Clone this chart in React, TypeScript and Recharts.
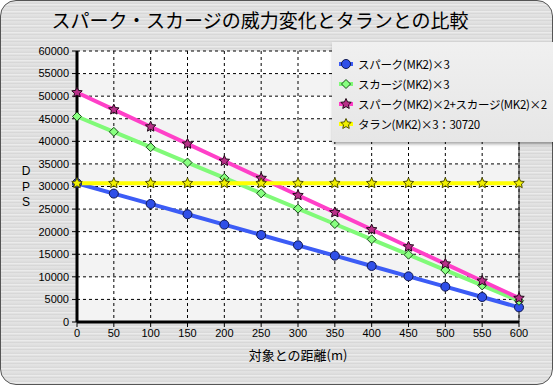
import React from "react"
import { LineChart, Line, XAxis, YAxis, CartesianGrid, ReferenceLine } from "recharts"

const distances = [0, 50, 100, 150, 200, 250, 300, 350, 400, 450, 500, 550, 600]
const spark = [30720, 28430, 26140, 23850, 21560, 19270, 16980, 14690, 12400, 10110, 7820, 5530, 3240]
const scourge = [45500, 42100, 38700, 35300, 31900, 28500, 25100, 21700, 18300, 14900, 11500, 8100, 4700]
const combined = [50810, 47020, 43230, 39430, 35640, 31850, 28050, 24260, 20470, 16670, 12880, 9090, 5290]
const taran = [30720, 30720, 30720, 30720, 30720, 30720, 30720, 30720, 30720, 30720, 30720, 30720, 30720]

const xTicks = [0, 50, 100, 150, 200, 250, 300, 350, 400, 450, 500, 550, 600]
const yTicks = [0, 5000, 10000, 15000, 20000, 25000, 30000, 35000, 40000, 45000, 50000, 55000, 60000]

const title = "スパーク・スカージの威力変化とタランとの比較"
const xLabel = "対象との距離(m)"
const yLabel = ["D", "P", "S"]

const data = distances.map((d, i) => ({
  dist: d,
  spark: spark[i],
  scourge: scourge[i],
  combined: combined[i],
  taran: taran[i],
}))

const jp = '"Noto Sans CJK JP", sans-serif'

function starPath(cx: number, cy: number, ro: number, ri: number) {
  let p = ""
  for (let k = 0; k < 10; k++) {
    const r = k % 2 === 0 ? ro : ri
    const a = -Math.PI / 2 + (k * Math.PI) / 5
    p += (k === 0 ? "M" : "L") + (cx + r * Math.cos(a)).toFixed(2) + "," + (cy + r * Math.sin(a)).toFixed(2)
  }
  return p + "Z"
}

type Shape = "circle" | "diamond" | "star"

function Marker({ cx, cy, shape, fill, stroke }: { cx: number; cy: number; shape: Shape; fill: string; stroke: string }) {
  if (shape === "circle") return <circle cx={cx} cy={cy} r={4.5} fill={fill} stroke={stroke} strokeWidth={1} />
  if (shape === "diamond")
    return (
      <path
        d={`M${cx},${cy - 4.5}L${cx + 4.5},${cy}L${cx},${cy + 4.5}L${cx - 4.5},${cy}Z`}
        fill={fill}
        stroke={stroke}
        strokeWidth={1}
      />
    )
  return <path d={starPath(cx, cy, 5.5, 2.6)} fill={fill} stroke={stroke} strokeWidth={1} />
}

const series = [
  { key: "spark", name: "スパーク(MK2)×3", color: "#3c5cf6", shape: "circle" as Shape, fill: "#2f4fe8", stroke: "#101850" },
  { key: "scourge", name: "スカージ(MK2)×3", color: "#80fa78", shape: "diamond" as Shape, fill: "#88ff80", stroke: "#1a4a1a" },
  { key: "combined", name: "スパーク(MK2)×2+スカージ(MK2)×2", color: "#ff40c8", shape: "star" as Shape, fill: "#b83088", stroke: "#200818" },
  { key: "taran", name: "タラン(MK2)×3：30720", color: "#ffff00", shape: "star" as Shape, fill: "#f0f000", stroke: "#505000" },
]

const metal =
  "repeating-linear-gradient(180deg, #d6d6d6 0px, #ececec 1px, #cfcfcf 2px, #e4e4e4 3px, #f2f2f2 4px, #d2d2d2 5px, #e8e8e8 7px)"

export default function App() {
  return (
    <div style={{ position: "absolute", left: 0, top: 0, width: 553, height: 385, overflow: "hidden" }}>
      <div
        style={{
          position: "absolute",
          left: 0,
          top: 0,
          width: 551,
          height: 383,
          border: "1px solid #555",
          borderRadius: 16,
          background: metal,
        }}
      />
      <div
        style={{
          position: "absolute",
          left: 0,
          width: 520,
          top: 6,
          textAlign: "center",
          fontFamily: jp,
          fontSize: 19,
          color: "#000",
        }}
      >
        {title}
      </div>
      {yLabel.map((c, i) => (
        <div
          key={c}
          style={{
            position: "absolute",
            left: 19,
            top: 164 + i * 15.5,
            width: 14,
            height: 14,
            fontFamily: "Liberation Sans, sans-serif",
            fontSize: 12,
            lineHeight: "14px",
            textAlign: "center",
          }}
        >
          {c}
        </div>
      ))}
      <div style={{ position: "absolute", left: 77, width: 442, top: 345, textAlign: "center", fontFamily: jp, fontSize: 13 }}>
        {xLabel}
      </div>
      <div style={{ position: "absolute", left: 0, top: 0 }}>
        <LineChart width={553} height={385} data={data} margin={{ top: 51, right: 34, bottom: 33, left: 17 }}>
          <CartesianGrid
            stroke="#000"
            strokeDasharray="3 3"
            horizontalFill={["#ffffff", "#f3f3f3"]}
            fillOpacity={1}
          />
          <XAxis
            dataKey="dist"
            type="number"
            domain={[0, 600]}
            ticks={xTicks}
            interval={0}
            height={30}
            tickSize={5}
            tickMargin={2}
            axisLine={{ stroke: "#000", strokeWidth: 3 }}
            tickLine={{ stroke: "#000" }}
            tick={{ fill: "#000", fontSize: 11, fontFamily: "Liberation Sans" }}
          />
          <YAxis
            type="number"
            domain={[0, 60000]}
            ticks={yTicks}
            interval={0}
            width={60}
            tickSize={5}
            tickMargin={3}
            axisLine={{ stroke: "#000", strokeWidth: 3 }}
            tickLine={{ stroke: "#000" }}
            tick={{ fill: "#000", fontSize: 11, fontFamily: "Liberation Sans" }}
          />
          <ReferenceLine x={600} stroke="#222" strokeWidth={1} />
          {series.map((s) => (
            <Line
              key={s.key}
              dataKey={s.key}
              type="linear"
              stroke={s.color}
              strokeWidth={4}
              isAnimationActive={false}
              dot={(p: any) => <Marker key={p.index} cx={p.cx} cy={p.cy} shape={s.shape} fill={s.fill} stroke={s.stroke} />}
              activeDot={false}
            />
          ))}
        </LineChart>
      </div>
      <div
        style={{
          position: "absolute",
          left: 332,
          top: 42,
          width: 230,
          height: 100,
          background: "linear-gradient(180deg, #f0f0f0, #e6e6e6)",
          boxShadow: "1px 2px 3px rgba(0,0,0,0.35)",
        }}
      >
        {series.map((s, i) => (
          <div
            key={s.key}
            style={{
              position: "absolute",
              left: 6,
              top: 12 + i * 20,
              height: 20,
              display: "flex",
              alignItems: "center",
              fontFamily: jp,
              fontSize: 11.5,
              letterSpacing: -0.3,
              whiteSpace: "nowrap",
            }}
          >
            <svg width={16} height={12} style={{ marginRight: 4 }}>
              <line x1={1} y1={6} x2={15} y2={6} stroke={s.color} strokeWidth={4} />
              <Marker cx={8} cy={6} shape={s.shape} fill={s.fill} stroke={s.stroke} />
            </svg>
            {s.name}
          </div>
        ))}
      </div>
    </div>
  )
}
